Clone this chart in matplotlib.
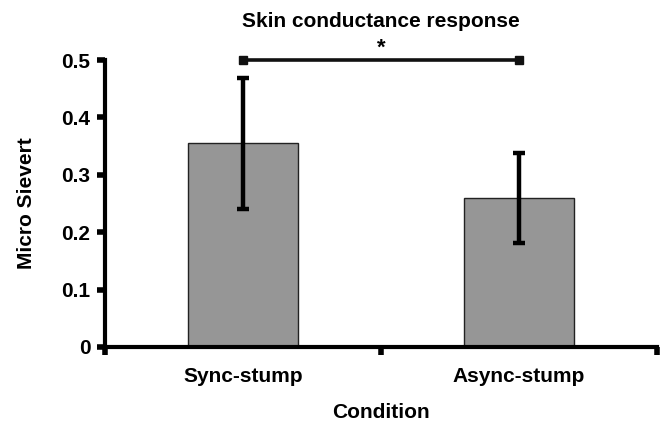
import matplotlib
matplotlib.use("Agg")
import matplotlib.pyplot as plt

categories = ["Sync-stump", "Async-stump"]
means = [0.355, 0.260]
errors = [0.114, 0.078]
yticks = [0, 0.1, 0.2, 0.3, 0.4, 0.5]
ytick_labels = ["0", "0.1", "0.2", "0.3", "0.4", "0.5"]
sig_level = 0.5
sig_text = "*"

plt.rcParams['font.family'] = ['Liberation Sans', 'DejaVu Sans']
plt.rcParams['font.weight'] = 'bold'

fig = plt.figure(figsize=(6.62, 4.23), dpi=100)
ax = fig.add_axes([105/662, 1-347/423, (657-105)/662, (347-60)/423])

x = list(range(len(categories)))
ax.bar(x, means, width=0.4, color='#969696', edgecolor='#222222', linewidth=1.0, zorder=2)
ax.errorbar(x, means, yerr=errors, fmt='none', ecolor='black', elinewidth=3.2,
            capsize=4, capthick=3.2, zorder=3, clip_on=False)

# significance bracket
ax.plot([x[0], x[1]], [sig_level, sig_level], color='#111111', lw=2.6,
        marker='s', markersize=6, clip_on=False, zorder=4)
ax.text((x[0] + x[1]) / 2, sig_level + 0.002, sig_text, ha='center', va='bottom',
        fontsize=16, fontweight='bold')

ax.set_xlim(-0.5, len(categories) - 0.5)
ax.set_ylim(0, 0.5)
ax.set_yticks(yticks)
ax.set_yticklabels(ytick_labels)
ax.set_xticks([-0.5, 0.5, 1.5])
ax.set_xticklabels([])
ax.set_xticks(x, minor=True)
ax.set_xticklabels(categories, minor=True)
ax.tick_params(axis='x', which='minor', length=0, pad=14.5, labelsize=15)
ax.tick_params(axis='x', which='major', direction='out', length=6, width=4, color='black')
ax.tick_params(axis='y', direction='out', length=6, width=4, pad=4.5, labelsize=15)

for side in ['top', 'right']:
    ax.spines[side].set_visible(False)
for side in ['left', 'bottom']:
    ax.spines[side].set_linewidth(3.0)
    ax.spines[side].set_color('black')

ax.set_title("Skin conductance response", fontsize=15, fontweight='bold', pad=24)
ax.set_xlabel("Condition", fontsize=15, fontweight='bold', labelpad=12)
ax.set_ylabel("Micro Sievert", fontsize=15, fontweight='bold', labelpad=18)

fig.savefig("out.png", dpi=100, facecolor='white')
